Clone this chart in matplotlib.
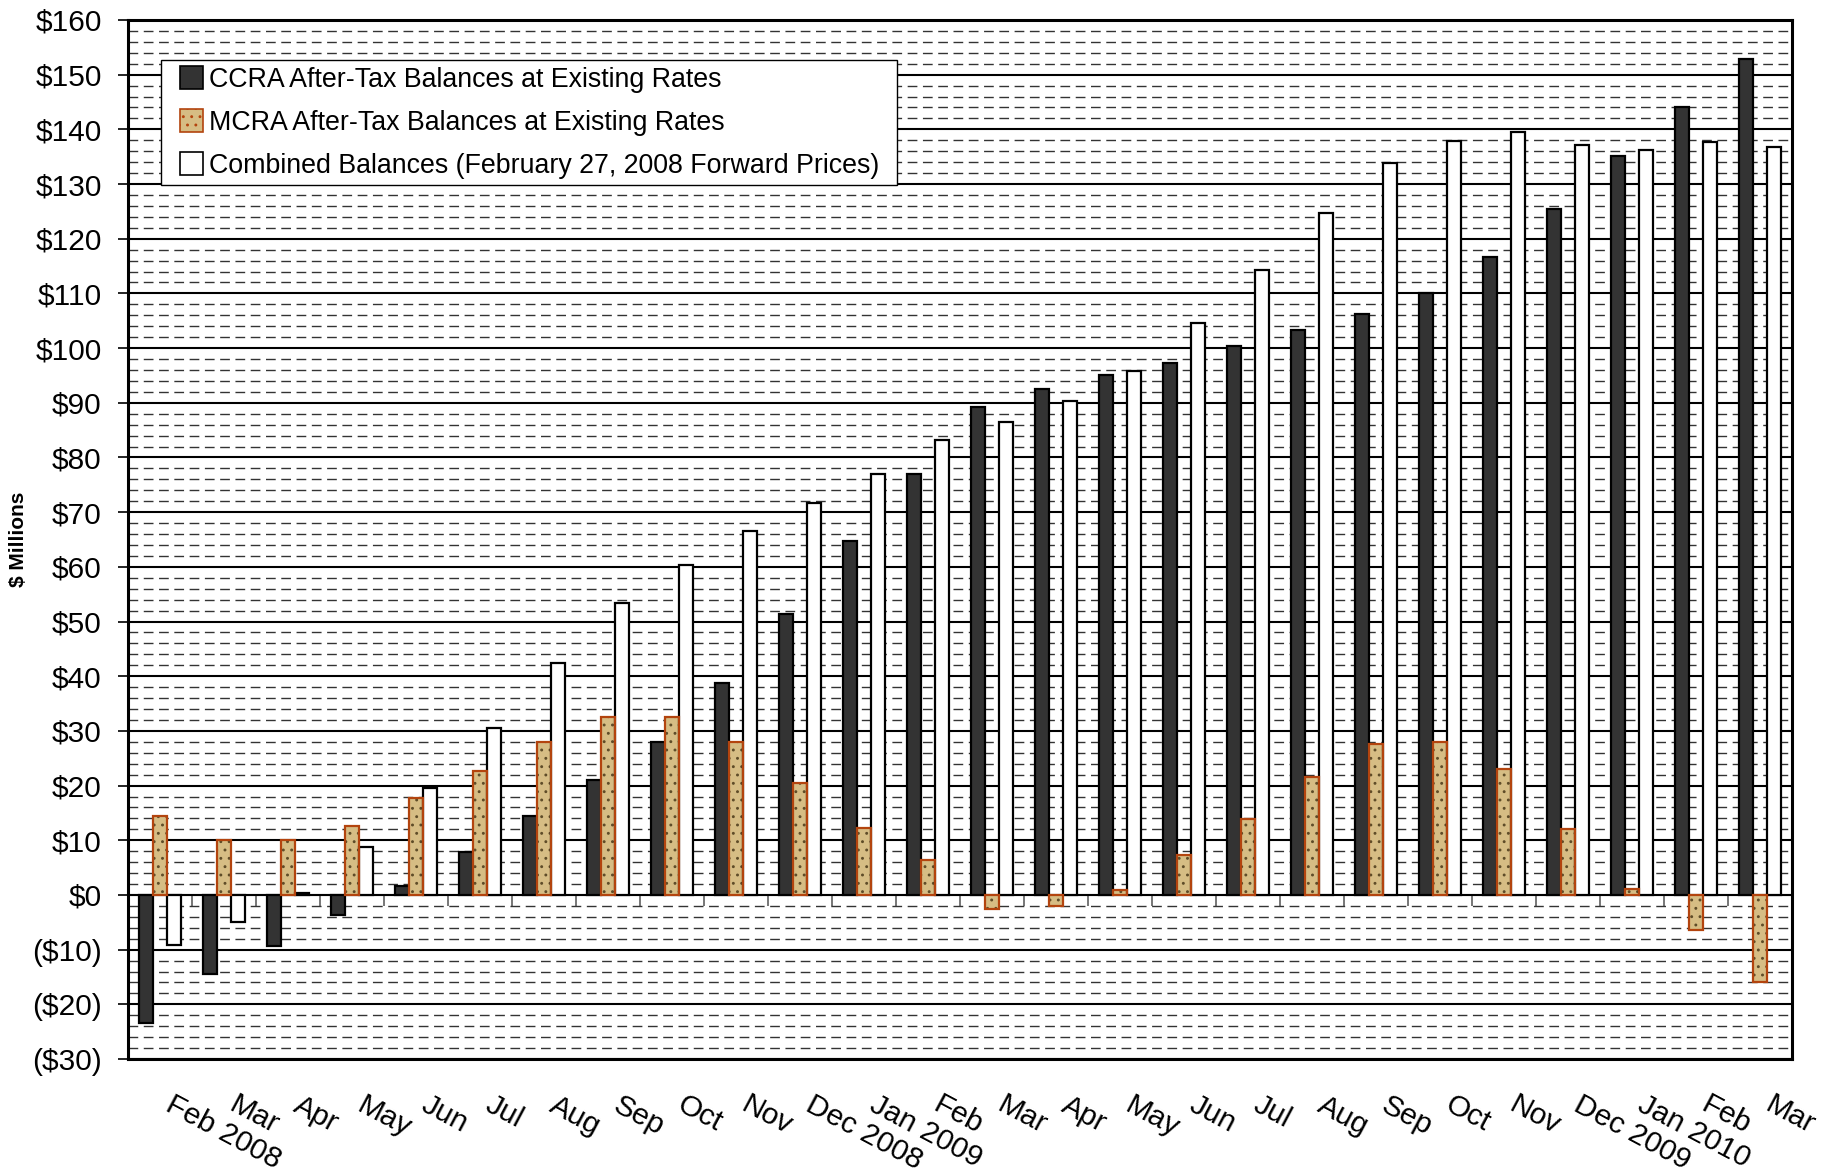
import matplotlib
matplotlib.use("Agg")
import matplotlib.pyplot as plt
from matplotlib.patches import Patch, Rectangle
from matplotlib.legend_handler import HandlerPatch
from matplotlib.ticker import FuncFormatter, MultipleLocator
from matplotlib.transforms import ScaledTranslation
import numpy as np

plt.rcParams['font.family'] = ['Liberation Sans', 'DejaVu Sans']
plt.rcParams['hatch.linewidth'] = 0.9

# month labels, Feb 2008 .. Mar 2010
months = ['Feb 2008', 'Mar', 'Apr', 'May', 'Jun', 'Jul', 'Aug', 'Sep', 'Oct', 'Nov',
          'Dec 2008', 'Jan 2009', 'Feb', 'Mar', 'Apr', 'May', 'Jun', 'Jul', 'Aug',
          'Sep', 'Oct', 'Nov', 'Dec 2009', 'Jan 2010', 'Feb', 'Mar']

# $ millions
ccra = [-23.5, -14.5, -9.4, -3.7, 1.7, 7.9, 14.5, 21.0, 28.0, 38.7,
        51.3, 64.8, 77.0, 89.2, 92.6, 95.0, 97.3, 100.3, 103.3, 106.3,
        110.0, 116.6, 125.4, 135.2, 144.0, 152.8]
mcra = [14.5, 10.0, 10.0, 12.6, 17.8, 22.7, 28.0, 32.5, 32.5, 28.0,
        20.5, 12.2, 6.4, -2.6, -2.1, 0.9, 7.3, 13.9, 21.6, 27.6,
        28.0, 23.1, 12.0, 1.1, -6.4, -16.0]
combined = [-9.2, -4.9, 0.4, 8.8, 19.5, 30.6, 42.4, 53.3, 60.3, 66.5,
            71.7, 77.0, 83.2, 86.4, 90.3, 95.8, 104.6, 114.2, 124.7, 133.9,
            137.8, 139.5, 137.1, 136.3, 137.6, 136.7]

labels = ['CCRA After-Tax Balances at Existing Rates',
          'MCRA After-Tax Balances at Existing Rates',
          'Combined Balances (February 27, 2008 Forward Prices)']

DARK = '#333333'
TAN = '#d6bd84'
SPECK = '#5e4c28'
RUST = '#b3440e'

fig = plt.figure(figsize=(18.34, 11.75), dpi=100)
ax = fig.add_axes([0.0698, 0.0987, 0.9073, 0.8843])

x = np.arange(len(months))
w = 0.222

ax.bar(x - w, ccra, w, color=DARK, edgecolor='black', linewidth=1.6, zorder=3)
ax.bar(x, mcra, w, color=TAN, edgecolor=SPECK, hatch='..', linewidth=0, zorder=3)
ax.bar(x, mcra, w, fill=False, edgecolor=RUST, linewidth=1.6, zorder=4)
ax.bar(x + w, combined, w, color='white', edgecolor='black', linewidth=1.6, zorder=3)

ax.set_xlim(-0.5, len(months) - 0.5)
ax.set_ylim(-30, 160)

# grid: solid every $10, dashed every $2
ax.yaxis.set_major_locator(MultipleLocator(10))
ax.yaxis.set_minor_locator(MultipleLocator(2))
ax.grid(which='major', axis='y', color='black', linewidth=1.5, zorder=1)
ax.grid(which='minor', axis='y', color='#333333', linewidth=1.0,
        linestyle=(0, (7, 4)), zorder=0)
ax.grid(False, axis='x')

def money(v, pos):
    v = int(round(v))
    return '(${})'.format(-v) if v < 0 else '${}'.format(v)

ax.yaxis.set_major_formatter(FuncFormatter(money))
ax.tick_params(axis='y', which='major', direction='out', length=7, width=1.2,
               labelsize=21.5, pad=12)
ax.tick_params(axis='y', which='minor', length=0)

# month names under the plot, slanted
ax.set_xticks([])
lab_off = ScaledTranslation(0.14, -0.32, fig.dpi_scale_trans)
for xi, m in zip(x, months):
    ax.text(xi, 0, m, transform=ax.get_xaxis_transform() + lab_off,
            rotation=-28, rotation_mode='anchor', ha='left', va='top',
            fontsize=21.5)

# zero line with category separators
zero = ax.secondary_xaxis(30 / 190)
zero.spines['bottom'].set_color('#808080')
zero.spines['bottom'].set_linewidth(1.5)
zero.set_xticks(np.arange(0.5, len(months) - 0.5, 1.0))
zero.tick_params(axis='x', direction='out', length=8, width=1.2,
                 color='#606060', labelbottom=False)

for s in ax.spines.values():
    s.set_linewidth(2.2)
    s.set_color('black')
    s.set_zorder(5)

ax.set_ylabel('$ Millions', fontsize=15, fontweight='bold')
ax.yaxis.set_label_coords(-0.06, 0.5)


def square(legend, orig_handle, xdescent, ydescent, width, height, fontsize):
    size = 0.62 * fontsize * fig.dpi / 72
    return Rectangle((width - size - xdescent, -ydescent + (height - size) / 2),
                     size, size)


handles = [Patch(facecolor=DARK, edgecolor='black', linewidth=1.2),
           Patch(facecolor=TAN, edgecolor=RUST, hatch='..', linewidth=1.2),
           Patch(facecolor='white', edgecolor='black', linewidth=1.2)]
leg = ax.legend(handles, labels, loc='upper left',
                bbox_to_anchor=(0.0198, 0.9614, 0.4423, 0), mode='expand',
                borderaxespad=0, fontsize=19.3, frameon=True, fancybox=False,
                framealpha=1, edgecolor='black', handlelength=1.32,
                handleheight=0.7, handletextpad=0.22, labelspacing=0.63,
                borderpad=0.25, handler_map={Patch: HandlerPatch(patch_func=square)})
leg.get_frame().set_linewidth(1.0)
leg.set_zorder(6)

fig.savefig('out.png', dpi=100)
